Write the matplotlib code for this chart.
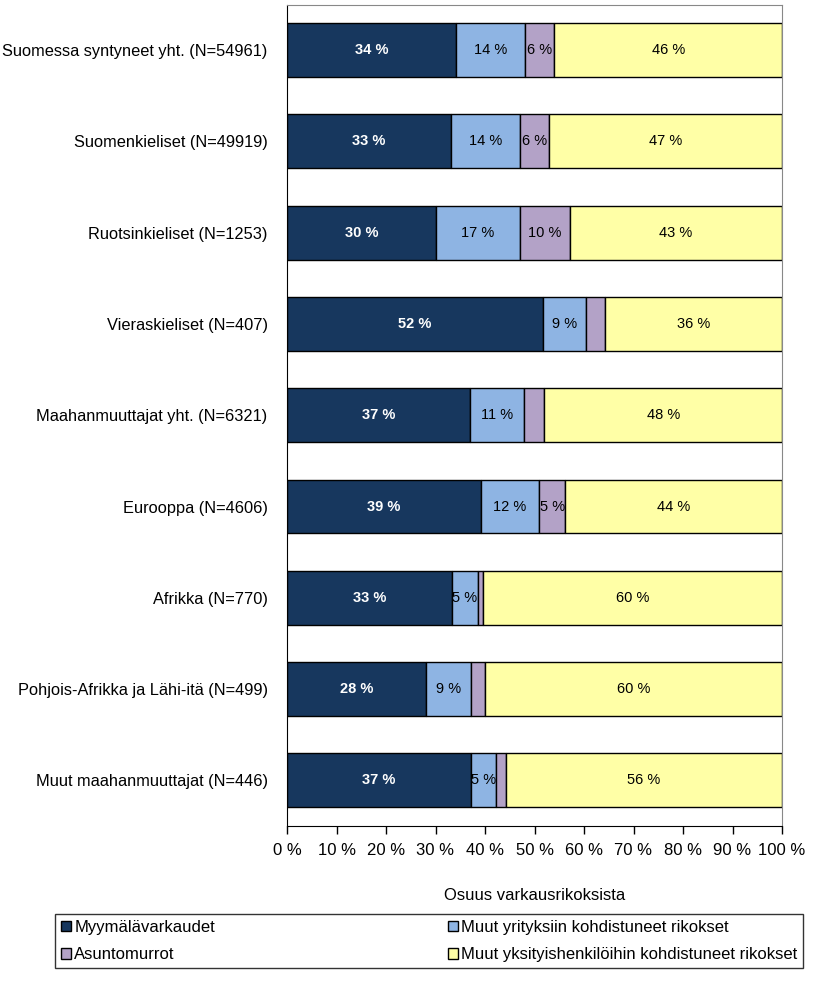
import matplotlib
matplotlib.use("Agg")
import matplotlib.pyplot as plt
import numpy as np

plt.rcParams['font.family'] = ['Liberation Sans', 'DejaVu Sans']

categories = ["Suomessa syntyneet yht. (N=54961)",
              "Suomenkieliset (N=49919)",
              "Ruotsinkieliset (N=1253)",
              "Vieraskieliset (N=407)",
              "Maahanmuuttajat yht. (N=6321)",
              "Eurooppa (N=4606)",
              "Afrikka (N=770)",
              "Pohjois-Afrikka ja Lähi-itä (N=499)",
              "Muut maahanmuuttajat (N=446)"]

myymala = [34.1, 33.1, 30.1, 51.7, 37.0, 39.1, 33.4, 28.1, 37.2]
yritys = [14.0, 13.9, 16.9, 8.7, 10.9, 11.9, 5.1, 9.0, 5.0]
asunto = [5.9, 6.0, 10.1, 3.9, 4.1, 5.1, 1.0, 3.0, 2.0]
yksityis = [46.0, 47.0, 42.9, 35.7, 48.0, 43.9, 60.5, 59.9, 55.8]

series_names = ["Myymälävarkaudet", "Muut yrityksiin kohdistuneet rikokset",
                "Asuntomurrot", "Muut yksityishenkilöihin kohdistuneet rikokset"]
colors = ["#17375E", "#8EB4E3", "#B3A2C7", "#FFFFA6"]
text_colors = ["white", "black", "black", "black"]
weights = ["bold", "normal", "normal", "normal"]

fig = plt.figure(figsize=(8.16, 9.81), dpi=100)
ax = fig.add_axes([287 / 816, 1 - 826 / 981, 495 / 816, 821.5 / 981])

y = np.arange(len(categories))
left = np.zeros(len(categories))
bars = []
for vals, col, tc, fw, name in zip([myymala, yritys, asunto, yksityis],
                                   colors, text_colors, weights, series_names):
    vals = np.array(vals)
    b = ax.barh(y, vals, left=left, height=0.59, color=col,
                edgecolor="black", linewidth=1, label=name)
    bars.append(b)
    for yi, l, v in zip(y, left, vals):
        if round(v) >= 5:
            ax.text(l + v / 2, yi, f"{round(v):d} %", ha="center", va="center",
                    color=tc, fontweight=fw, fontsize=10.5)
    left = left + vals

ax.set_xlim(0, 100)
ax.set_ylim(len(categories) - 0.5, -0.5)
ax.set_yticks(y)
ax.set_yticklabels(categories, fontsize=11.8)
ax.tick_params(axis="y", length=0, pad=14)
ax.set_xticks(np.arange(0, 101, 10))
ax.set_xticklabels([f"{v} %" for v in range(0, 101, 10)], fontsize=12)
ax.tick_params(axis="x", direction="out", length=6, width=1, pad=6)

for s in ["top", "right"]:
    ax.spines[s].set_color("#888888")
for s in ["left", "bottom"]:
    ax.spines[s].set_color("black")

ax.set_xlabel("Osuus varkausrikoksista", fontsize=12, labelpad=22)

handles = [bars[0], bars[2], bars[1], bars[3]]
labels = [series_names[0], series_names[2], series_names[1], series_names[3]]
leg = fig.legend(handles, labels, ncol=2, loc="lower left", mode="expand",
                 bbox_to_anchor=(55 / 816, 1 - 968 / 981, 748 / 816, 56 / 981),
                 fontsize=12, frameon=True, fancybox=False, edgecolor="black",
                 handlelength=0.6, handleheight=0.6, handletextpad=0.2,
                 labelspacing=0.75, borderpad=0.35, borderaxespad=0)
leg.get_frame().set_linewidth(1)

fig.savefig("out.png", dpi=100)
